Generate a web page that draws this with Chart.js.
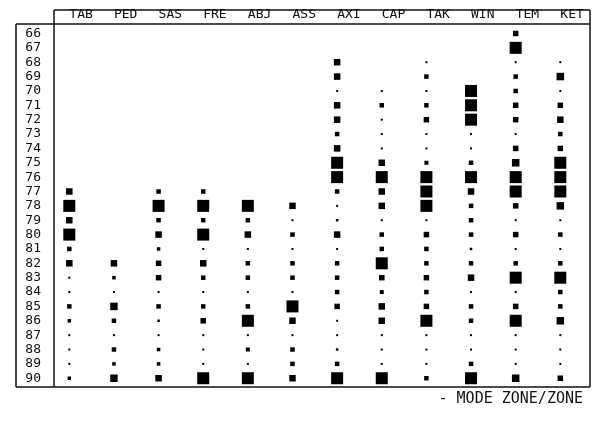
<!DOCTYPE html>
<html>
<head>
<meta charset="utf-8">
<script src="https://cdn.jsdelivr.net/npm/chart.js@4.4.1/dist/chart.umd.min.js"></script>
<style>
  html, body { margin: 0; padding: 0; background: #fff; }
  #wrap { width: 600px; height: 421px; }
</style>
</head>
<body>
<div id="wrap"><canvas id="myChart"></canvas></div>
<script>
const columns = ['TAB', 'PED', 'SAS', 'FRE', 'ABJ', 'ASS', 'AXI', 'CAP', 'TAK', 'WIN', 'TEM', 'KET'];
const rows = [66, 67, 68, 69, 70, 71, 72, 73, 74, 75, 76, 77, 78, 79, 80, 81, 82, 83, 84, 85, 86, 87, 88, 89, 90];

// frequency class per row (66..90), 0 = nothing
const TAB = [0,0,0,0,0,0,0,0,0,0,0, 4,6,4,6,3,4,1,1,3,2,1,1,1,2];
const PED = [0,0,0,0,0,0,0,0,0,0,0,0,0,0,0,0, 4,2,1,4.5,3,1,3,2,4.5];
const SAS = [0,0,0,0,0,0,0,0,0,0,0, 3,6,3,4,2,3.5,3.5,1,3,1.5,1,2,2,4];
const FRE = [0,0,0,0,0,0,0,0,0,0,0, 3,6,3,6,1,4,3,1,3,3.5,1,1,1,6];
const ABJ = [0,0,0,0,0,0,0,0,0,0,0,0, 6,3,4,1,3,3,1,3,6,1,2.5,1,6];
const ASS = [0,0,0,0,0,0,0,0,0,0,0,0, 4,1,3,1,3,3,1,6,4,1,3,3,4];
const AXI = [0,0, 4,4,1,4,4,3,4,6,6,3,1,1.5,4,1,3,3,3,3.5,1,1,1.5,3,6];
const CAP = [0,0,0,0, 1,3,1,1,1,4,6,4,4,1,3,3,6,3.5,2.5,4,4,1,1,1,6];
const TAK = [0,0, 1,3,1,3,3.5,1,1,2.5,6,6,6,1,3.5,3,3,3.5,3,3.5,6,1,1,1,3];
const WIN = [0,0,0,0, 6,6,6,1,1,3,6,4,3,3,3,1.5,3,4,1,3,3,1,1,3,6];
const TEM = [3.5,6,1,3,3,3.5,3.5,1,3.5,4.5,6,6,3.5,1,3.5,1,3,6,1,3.5,6,1,1,1,4.5];
const KET = [0,0, 1,4.5,1,3.5,4,3,3.5,6,6,6,4.5,1,3,1,3,6,3,3,4.5,1,1,1,3.5];

const series = [TAB, PED, SAS, FRE, ABJ, ASS, AXI, CAP, TAK, WIN, TEM, KET];

// square side in px for each class
function sidePx(v) {
  const map = {1: 2, 1.5: 2.5, 2: 3.5, 2.5: 4, 3: 4.5, 3.5: 5.5, 4: 6.5, 4.5: 7.5, 6: 12};
  return map[v] || 0;
}

const points = [];
series.forEach((vals, ci) => {
  vals.forEach((v, ri) => {
    if (v > 0) points.push({ x: ci, y: rows[ri], v: v });
  });
});

const monoFont = "'DejaVu Sans Mono', monospace";

const frame = {
  id: 'frame',
  afterDraw: (chart) => {
    const { ctx, chartArea: { top, right, bottom, left } } = chart;
    const outerLeft = 16;
    const headTop = 10;
    ctx.save();
    ctx.strokeStyle = '#111';
    ctx.lineWidth = 1.5;
    ctx.beginPath();
    ctx.moveTo(left, headTop); ctx.lineTo(right, headTop);
    ctx.moveTo(outerLeft, top); ctx.lineTo(right, top);
    ctx.moveTo(outerLeft, bottom); ctx.lineTo(right, bottom);
    ctx.moveTo(outerLeft, top); ctx.lineTo(outerLeft, bottom);
    ctx.moveTo(left, headTop); ctx.lineTo(left, bottom);
    ctx.moveTo(right, headTop); ctx.lineTo(right, bottom);
    ctx.stroke();
    ctx.fillStyle = '#111';
    ctx.font = "15px " + monoFont;
    ctx.textAlign = 'right';
    ctx.textBaseline = 'middle';
    ctx.fillText('- MODE ZONE/ZONE', right - 7, bottom + 12);
    ctx.restore();
  }
};

new Chart(document.getElementById('myChart'), {
  type: 'scatter',
  data: {
    datasets: [{
      data: points,
      pointStyle: 'rect',
      backgroundColor: '#000',
      borderWidth: 0,
      pointRadius: (c) => c.raw ? sidePx(c.raw.v) / Math.SQRT2 : 0,
      pointHoverRadius: (c) => c.raw ? sidePx(c.raw.v) / Math.SQRT2 : 0
    }]
  },
  options: {
    animation: false,
    responsive: true,
    maintainAspectRatio: false,
    layout: { padding: { left: 0, top: 0, right: 10, bottom: 34 } },
    plugins: {
      legend: { display: false },
      tooltip: { enabled: false }
    },
    scales: {
      x: {
        type: 'linear',
        position: 'top',
        min: -0.343,
        max: 11.665,
        grid: { display: false, drawTicks: false },
        border: { display: false },
        afterFit: (s) => { s.height = 24; },
        afterBuildTicks: (s) => { s.ticks = columns.map((c, i) => ({ value: i })); },
        ticks: {
          autoSkip: false,
          maxRotation: 0,
          align: 'start',
          padding: 2,
          color: '#111',
          font: { family: monoFont, size: 13 },
          callback: (v) => columns[v]
        }
      },
      y: {
        type: 'linear',
        reverse: true,
        min: 65.34,
        max: 90.61,
        grid: { display: false, drawTicks: false },
        border: { display: false },
        afterFit: (s) => { s.width = 54; },
        afterBuildTicks: (s) => { s.ticks = rows.map((r) => ({ value: r })); },
        ticks: {
          autoSkip: false,
          padding: 13,
          color: '#111',
          font: { family: monoFont, size: 13 },
          callback: (v) => String(v)
        }
      }
    }
  },
  plugins: [frame]
});
</script>
</body>
</html>
